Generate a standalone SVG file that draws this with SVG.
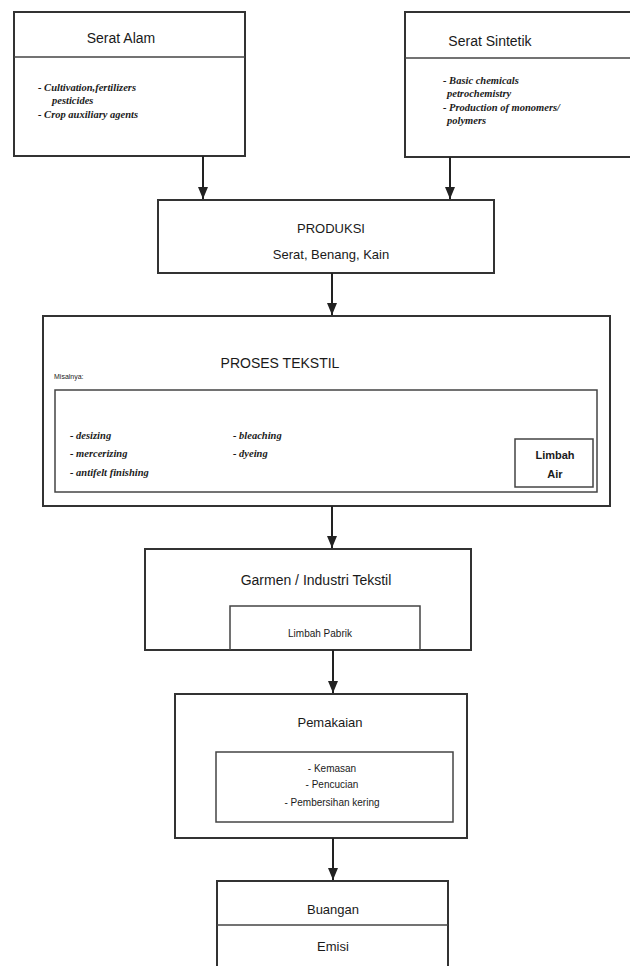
<svg xmlns="http://www.w3.org/2000/svg" width="630" height="966" viewBox="0 0 630 966">
<defs>
<style>
.box{fill:#fff;stroke:#333;stroke-width:2}
.in{fill:none;stroke:#444;stroke-width:1.5}
.t{font-family:"Liberation Sans",Arial,sans-serif;font-size:13px;fill:#1a1a1a;text-anchor:middle}
.s{font-family:"Liberation Sans",Arial,sans-serif;font-size:10px;fill:#222}
.bi{font-family:"Liberation Serif","Times New Roman",serif;font-size:10.5px;font-style:italic;font-weight:bold;fill:#1a1a1a}
.c{stroke:#222;stroke-width:2;fill:none}
</style>
<marker id="ah" viewBox="0 0 12 10" refX="12" refY="5" markerWidth="12" markerHeight="12" markerUnits="userSpaceOnUse" orient="auto"><path d="M0,0 L12,5 L0,10 Z" fill="#222"/></marker>
</defs>
<rect width="630" height="966" fill="#fff"/>
<g id="serat-alam">
<rect class="box" x="14" y="12" width="231" height="144"/>
<line class="in" x1="14" y1="57" x2="245" y2="57"/>
<text class="t" x="121" y="43" style="font-size:14px">Serat Alam</text>
<text class="bi" x="38" y="91">- Cultivation,fertilizers</text>
<text class="bi" x="52" y="104">pesticides</text>
<text class="bi" x="38" y="118">- Crop auxiliary agents</text>
</g>
<g id="serat-sintetik">
<rect class="box" x="405" y="12" width="230" height="145"/>
<line class="in" x1="405" y1="58" x2="630" y2="58"/>
<text class="t" x="490" y="46" style="font-size:14px">Serat Sintetik</text>
<text class="bi" x="443" y="84">- Basic chemicals</text>
<text class="bi" x="447" y="97">petrochemistry</text>
<text class="bi" x="443" y="111">- Production of monomers/</text>
<text class="bi" x="447" y="124">polymers</text>
</g>
<g id="produksi">
<rect class="box" x="158" y="200" width="336" height="73"/>
<text class="t" x="331" y="233">PRODUKSI</text>
<text class="t" x="331" y="259">Serat, Benang, Kain</text>
</g>
<g id="proses-tekstil">
<rect class="box" x="43" y="316" width="567" height="190"/>
<text class="t" x="280" y="368" style="font-size:14px">PROSES  TEKSTIL</text>
<text class="s" x="54" y="379" style="font-size:7px">Misalnya:</text>
<rect class="in" x="55" y="390" width="542" height="102"/>
<text class="bi" x="70" y="439">- desizing</text>
<text class="bi" x="70" y="457">- mercerizing</text>
<text class="bi" x="70" y="476">- antifelt finishing</text>
<text class="bi" x="233" y="439">- bleaching</text>
<text class="bi" x="233" y="457">- dyeing</text>
<g id="limbah-air">
<rect class="in" x="515" y="439" width="78" height="48"/>
<text class="t" x="555" y="459" style="font-size:11px;font-weight:bold">Limbah</text>
<text class="t" x="555" y="478" style="font-size:11px;font-weight:bold">Air</text>
</g>
</g>
<g id="garmen">
<rect class="box" x="145" y="549" width="326" height="101"/>
<text class="t" x="316" y="585" style="font-size:14px">Garmen / Industri Tekstil</text>
<g id="limbah-pabrik">
<path class="in" d="M230,650 V606 H420 V650"/>
<text class="t" x="320" y="637" style="font-size:10px">Limbah Pabrik</text>
</g>
</g>
<g id="pemakaian">
<rect class="box" x="175" y="694" width="292" height="144"/>
<text class="t" x="330" y="727">Pemakaian</text>
<rect class="in" x="216" y="752" width="237" height="70"/>
<text class="t" x="332" y="772" style="font-size:10px">- Kemasan</text>
<text class="t" x="332" y="788" style="font-size:10px">- Pencucian</text>
<text class="t" x="332" y="806" style="font-size:10px">- Pembersihan kering</text>
</g>
<g id="buangan">
<rect class="box" x="217" y="881" width="231" height="90"/>
<line class="in" x1="217" y1="925" x2="448" y2="925"/>
<text class="t" x="333" y="914">Buangan</text>
<text class="t" x="333" y="951">Emisi</text>
</g>
<g id="connectors">
<line class="c" x1="203" y1="156" x2="203" y2="199" marker-end="url(#ah)"/>
<line class="c" x1="450" y1="157" x2="450" y2="199" marker-end="url(#ah)"/>
<line class="c" x1="332" y1="273" x2="332" y2="315" marker-end="url(#ah)"/>
<line class="c" x1="332" y1="506" x2="332" y2="548" marker-end="url(#ah)"/>
<line class="c" x1="333" y1="650" x2="333" y2="693" marker-end="url(#ah)"/>
<line class="c" x1="333" y1="838" x2="333" y2="880" marker-end="url(#ah)"/>
</g>
</svg>
